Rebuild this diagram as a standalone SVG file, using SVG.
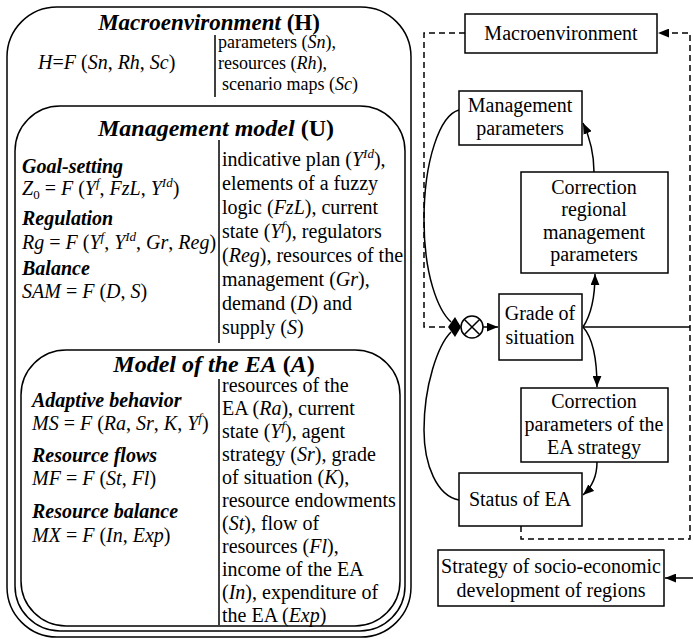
<svg xmlns="http://www.w3.org/2000/svg" width="693" height="639" viewBox="0 0 693 639" font-family="'Liberation Serif', 'Times New Roman', serif">
<defs>
<style>
text{font-family:"Liberation Serif","Times New Roman",serif;font-size:20px;fill:#000}
.i{font-style:italic}
.b{font-weight:bold}
.bi{font-weight:bold;font-style:italic}
.m{text-anchor:middle}
.box{fill:#fff;stroke:#000;stroke-width:1.5}
.frame{fill:none;stroke:#000;stroke-width:1.5}
.sep{stroke:#000;stroke-width:1.5}
.ln{fill:none;stroke:#000;stroke-width:1.5}
.dash{fill:none;stroke:#000;stroke-width:1.5;stroke-dasharray:6 4}
</style>
<marker id="ah" viewBox="0 0 10 8" refX="10" refY="4" markerWidth="11" markerHeight="9" markerUnits="userSpaceOnUse" orient="auto">
<path d="M0,0 L10,4 L0,8 Z" fill="#000"/>
</marker>
</defs>

<g id="macro-frame">
<rect class="frame" x="7" y="7" width="404" height="630" rx="50" ry="50"/>
<text class="m" x="209" y="30" style="font-size:23px"><tspan class="bi">Macroenvironment</tspan> <tspan class="b">(H)</tspan></text>
<text x="38" y="69"><tspan class="i">H</tspan>=<tspan class="i">F</tspan> (<tspan class="i">Sn</tspan>, <tspan class="i">Rh</tspan>, <tspan class="i">Sc</tspan>)</text>
<line class="sep" x1="215" y1="35" x2="215" y2="97"/>
<text x="218" y="48" style="font-size:18px">parameters (<tspan class="i">Sn</tspan>),</text>
<text x="218" y="69" style="font-size:18px">resources (<tspan class="i">Rh</tspan>),</text>
<text x="222" y="90" style="font-size:18px">scenario maps (<tspan class="i">Sc</tspan>)</text>
</g>

<g id="management-model">
<rect class="frame" x="15" y="106" width="390" height="525" rx="45" ry="45"/>
<text class="m" x="216" y="136" style="font-size:24px"><tspan class="bi">Management model</tspan> <tspan class="b">(U)</tspan></text>
<line class="sep" x1="219" y1="140" x2="219" y2="343"/>
<text class="bi" x="22" y="173">Goal-setting</text>
<text x="22" y="195"><tspan class="i">Z</tspan><tspan style="font-size:13px" dy="4">0</tspan><tspan dy="-4"> = </tspan><tspan class="i">F</tspan> (<tspan class="i">Y</tspan><tspan class="i" style="font-size:13px" dy="-8">f</tspan><tspan dy="8">, </tspan><tspan class="i">FzL</tspan>, <tspan class="i">Y</tspan><tspan class="i" style="font-size:13px" dy="-8">Id</tspan><tspan dy="8">)</tspan></text>
<text class="bi" x="22" y="225">Regulation</text>
<text x="22" y="249"><tspan class="i">Rg</tspan> = <tspan class="i">F</tspan> (<tspan class="i">Y</tspan><tspan class="i" style="font-size:13px" dy="-8">f</tspan><tspan dy="8">, </tspan><tspan class="i">Y</tspan><tspan class="i" style="font-size:13px" dy="-8">Id</tspan><tspan dy="8">, </tspan><tspan class="i">Gr</tspan>, <tspan class="i">Reg</tspan>)</text>
<text class="bi" x="22" y="275">Balance</text>
<text x="22" y="298"><tspan class="i">SAM</tspan> = <tspan class="i">F</tspan> (<tspan class="i">D</tspan>, <tspan class="i">S</tspan>)</text>
<text x="222" y="166">indicative plan (<tspan class="i">Y</tspan><tspan class="i" style="font-size:13px" dy="-8">Id</tspan><tspan dy="8">),</tspan></text>
<text x="222" y="190">elements of a fuzzy</text>
<text x="222" y="214">logic (<tspan class="i">FzL</tspan>), current</text>
<text x="222" y="238">state (<tspan class="i">Y</tspan><tspan class="i" style="font-size:13px" dy="-8">f</tspan><tspan dy="8">), regulators</tspan></text>
<text x="222" y="262">(<tspan class="i">Reg</tspan>), resources of the</text>
<text x="222" y="286">management (<tspan class="i">Gr</tspan>),</text>
<text x="222" y="310">demand (<tspan class="i">D</tspan>) and</text>
<text x="222" y="334">supply (<tspan class="i">S</tspan>)</text>
</g>

<g id="ea-model">
<rect class="frame" x="21" y="350" width="379" height="276" rx="45" ry="45"/>
<text class="m" x="214" y="372" style="font-size:24px"><tspan class="bi">Model of the EA</tspan> <tspan class="b">(</tspan><tspan class="bi">A</tspan><tspan class="b">)</tspan></text>
<line class="sep" x1="219" y1="379" x2="219" y2="625"/>
<text class="bi" x="32" y="407">Adaptive behavior</text>
<text x="32" y="430"><tspan class="i">MS</tspan> = <tspan class="i">F</tspan> (<tspan class="i">Ra</tspan>, <tspan class="i">Sr</tspan>, <tspan class="i">K</tspan>, <tspan class="i">Y</tspan><tspan class="i" style="font-size:13px" dy="-8">f</tspan><tspan dy="8">)</tspan></text>
<text class="bi" x="32" y="462">Resource flows</text>
<text x="32" y="485"><tspan class="i">MF</tspan> = <tspan class="i">F</tspan> (<tspan class="i">St</tspan>, <tspan class="i">Fl</tspan>)</text>
<text class="bi" x="32" y="518">Resource balance</text>
<text x="32" y="542"><tspan class="i">MX</tspan> = <tspan class="i">F</tspan> (<tspan class="i">In</tspan>, <tspan class="i">Exp</tspan>)</text>
<text x="222" y="392">resources of the</text>
<text x="222" y="415">EA (<tspan class="i">Ra</tspan>), current</text>
<text x="222" y="438">state (<tspan class="i">Y</tspan><tspan class="i" style="font-size:13px" dy="-8">f</tspan><tspan dy="8">), agent</tspan></text>
<text x="222" y="461">strategy (<tspan class="i">Sr</tspan>), grade</text>
<text x="222" y="484">of situation (<tspan class="i">K</tspan>),</text>
<text x="222" y="507">resource endowments</text>
<text x="222" y="530">(<tspan class="i">St</tspan>), flow of</text>
<text x="222" y="553">resources (<tspan class="i">Fl</tspan>),</text>
<text x="222" y="576">income of the EA</text>
<text x="222" y="599">(<tspan class="i">In</tspan>), expenditure of</text>
<text x="222" y="622">the EA (<tspan class="i">Exp</tspan>)</text>
</g>

<g id="connectors">
<path class="dash" d="M465,33 H424 V327 H450"/>
<path class="dash" d="M521,526 V539 H690 V33 H658" marker-end="url(#ah)"/>
<path class="ln" d="M583,327 H690"/>
<path class="ln" d="M693,578 H665" marker-end="url(#ah)"/>
<path class="ln" d="M459,110 C440,115 424,160 424,220 C424,275 438,310 451,322"/>
<path class="ln" d="M459,500 C437,496 424,465 424,430 C424,385 438,345 451,332"/>
<polygon points="448,327 455,317 461,327 455,337" fill="#000"/>
<path class="ln" d="M483,327 H498" marker-end="url(#ah)"/>
<path class="ln" d="M594,172 C594,152 590,138 583,123" marker-end="url(#ah)"/>
<path class="ln" d="M583,327 C591,315 595,296 595,274" marker-end="url(#ah)"/>
<path class="ln" d="M583,327 C592,337 597,357 597,387" marker-end="url(#ah)"/>
<path class="ln" d="M597,462 C597,476 592,487 583,495" marker-end="url(#ah)"/>
</g>

<g id="summator">
<circle cx="472" cy="327" r="11" fill="#fff" stroke="#000" stroke-width="1.5"/>
<path d="M464.2,319.2 L479.8,334.8 M479.8,319.2 L464.2,334.8" stroke="#000" stroke-width="1.5"/>
</g>

<g id="node-macroenvironment">
<rect class="box" x="465" y="14" width="192" height="39"/>
<text class="m" x="561" y="40">Macroenvironment</text>
</g>
<g id="node-management-parameters">
<rect class="box" x="459" y="91" width="123" height="54"/>
<text class="m" x="520" y="112">Management</text>
<text class="m" x="520" y="135">parameters</text>
</g>
<g id="node-correction-regional">
<rect class="box" x="521" y="172" width="147" height="101"/>
<text class="m" x="594" y="194">Correction</text>
<text class="m" x="594" y="216">regional</text>
<text class="m" x="594" y="239">management</text>
<text class="m" x="594" y="261">parameters</text>
</g>
<g id="node-grade">
<rect class="box" x="499" y="294" width="83" height="66"/>
<text class="m" x="540" y="320">Grade of</text>
<text class="m" x="540" y="344">situation</text>
</g>
<g id="node-correction-ea">
<rect class="box" x="521" y="388" width="147" height="74"/>
<text class="m" x="594" y="408">Correction</text>
<text class="m" x="594" y="431">parameters of the</text>
<text class="m" x="594" y="454">EA strategy</text>
</g>
<g id="node-status">
<rect class="box" x="459" y="473" width="123" height="53"/>
<text class="m" x="520" y="506">Status of EA</text>
</g>
<g id="node-strategy">
<rect class="box" x="438" y="550" width="226" height="56"/>
<text class="m" x="551" y="573">Strategy of socio-economic</text>
<text class="m" x="551" y="597">development of regions</text>
</g>
</svg>
